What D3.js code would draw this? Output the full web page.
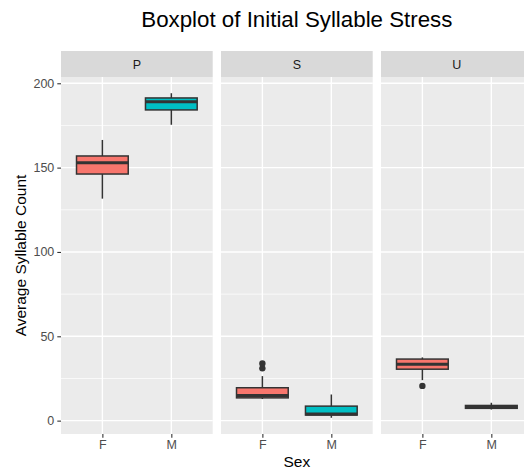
<!DOCTYPE html>
<html>
<head>
<meta charset="utf-8">
<script src="https://cdn.jsdelivr.net/npm/d3@7"></script>
<style>
  body { margin: 0; background: #fff; }
  svg { display: block; font-family: "Liberation Sans", Arial, sans-serif; }
</style>
</head>
<body>
<div id="chart"></div>
<script>
// facets and groups
var panels = ["P", "S", "U"];
var sexes = ["F", "M"];

// five-number summaries, one entry per panel/sex (P-F, P-M, S-F, S-M, U-F, U-M)
var lowWhisker = [131.6, 175.4, 12.8, 1.7, 24.0, 6.6];
var q1Values   = [146.2, 184.2, 13.5, 3.3, 30.5, 7.3];
var medians    = [152.9, 189.1, 14.9, 3.9, 33.5, 8.0];
var q3Values   = [156.9, 191.3, 19.5, 8.6, 36.5, 9.0];
var highWhisker = [166.4, 194.1, 26.4, 15.5, 37.5, 10.6];
var outliers = [[], [], [31.0, 33.9], [], [20.6], []];

var yTicks = [0, 50, 100, 150, 200];
var yMinor = [25, 75, 125, 175];

var fills = {"F": "#F8766D", "M": "#00BFC4"};

var svgWidth = 524;
var svgHeight = 472;

// layout of the plot area (the original render is cropped on the right)
var margin = {top: 51, left: 61};
var stripH = 26;
var panelW = 151.7;
var panelGap = 8.3;
var panelTop = margin.top + stripH;
var panelBottom = 434;

var svg = d3.select("#chart")
  .append("svg")
  .attr("width", svgWidth)
  .attr("height", svgHeight);

// build box records from the arrays
var boxes = [];
panels.forEach(function(p, i) {
  sexes.forEach(function(s, j) {
    var k = i * sexes.length + j;
    boxes.push({
      panel: p, sex: s,
      lo: lowWhisker[k], q1: q1Values[k], med: medians[k],
      q3: q3Values[k], hi: highWhisker[k], out: outliers[k]
    });
  });
});

// y scale with ggplot-like 5% expansion
var allVals = [];
boxes.forEach(function(b) { allVals.push(b.lo, b.hi); b.out.forEach(function(o) { allVals.push(o); }); });
var yMin = d3.min(allVals), yMax = d3.max(allVals);
var pad = (yMax - yMin) * 0.05;
var y = d3.scaleLinear()
  .domain([yMin - pad, yMax + pad])
  .range([panelBottom, panelTop]);

var xScale = d3.scalePoint()
  .domain(sexes)
  .range([0, panelW])
  .padding(0.6);
var boxW = xScale.step() * 0.75;

// title
svg.append("text")
  .attr("x", margin.left + (panels.length * panelW + (panels.length - 1) * panelGap) / 2)
  .attr("y", 27)
  .attr("text-anchor", "middle")
  .attr("font-size", "22.3px")
  .attr("fill", "#000")
  .text("Boxplot of Initial Syllable Stress");

panels.forEach(function(p, i) {
  var px = margin.left + i * (panelW + panelGap);
  var g = svg.append("g").attr("transform", `translate(${px},0)`);

  // strip
  g.append("rect")
    .attr("x", 0).attr("y", margin.top)
    .attr("width", panelW).attr("height", stripH)
    .attr("fill", "#d9d9d9");
  g.append("text")
    .attr("x", panelW / 2)
    .attr("y", margin.top + stripH / 2)
    .attr("dy", "0.36em")
    .attr("text-anchor", "middle")
    .attr("font-size", "12.5px")
    .attr("fill", "#1a1a1a")
    .text(p);

  // panel background
  g.append("rect")
    .attr("x", 0).attr("y", panelTop)
    .attr("width", panelW).attr("height", panelBottom - panelTop)
    .attr("fill", "#ebebeb");

  // grid lines
  g.selectAll(".minor")
    .data(yMinor)
    .enter().append("line")
    .attr("x1", 0).attr("x2", panelW)
    .attr("y1", d => y(d)).attr("y2", d => y(d))
    .attr("stroke", "#fff").attr("stroke-width", 0.7);
  g.selectAll(".major")
    .data(yTicks)
    .enter().append("line")
    .attr("x1", 0).attr("x2", panelW)
    .attr("y1", d => y(d)).attr("y2", d => y(d))
    .attr("stroke", "#fff").attr("stroke-width", 1.4);
  g.selectAll(".vmajor")
    .data(sexes)
    .enter().append("line")
    .attr("x1", d => xScale(d)).attr("x2", d => xScale(d))
    .attr("y1", panelTop).attr("y2", panelBottom)
    .attr("stroke", "#fff").attr("stroke-width", 1.4);

  // x axis
  var xAxis = g.append("g")
    .attr("transform", `translate(0,${panelBottom})`)
    .call(d3.axisBottom(xScale).tickSize(3.7).tickPadding(2.5));
  xAxis.select(".domain").remove();
  xAxis.selectAll(".tick line").attr("stroke", "#333").attr("stroke-width", 1.1);
  xAxis.selectAll(".tick text")
    .attr("fill", "#4d4d4d")
    .attr("font-size", "12.5px")
    .attr("font-family", "Liberation Sans, Arial, sans-serif");

  // y axis only on the first panel
  if (i === 0) {
    var yAxis = g.append("g")
      .call(d3.axisLeft(y).tickValues(yTicks).tickSize(3.7).tickPadding(3));
    yAxis.select(".domain").remove();
    yAxis.selectAll(".tick line").attr("stroke", "#333").attr("stroke-width", 1.1);
    yAxis.selectAll(".tick text")
      .attr("fill", "#4d4d4d")
      .attr("font-size", "12.5px")
      .attr("font-family", "Liberation Sans, Arial, sans-serif");
  }

  // boxes
  var data = boxes.filter(b => b.panel === p);
  var bg = g.selectAll(".box")
    .data(data)
    .enter().append("g");

  bg.append("line")
    .attr("x1", d => xScale(d.sex)).attr("x2", d => xScale(d.sex))
    .attr("y1", d => y(d.hi)).attr("y2", d => y(d.lo))
    .attr("stroke", "#333").attr("stroke-width", 1.5);

  bg.append("rect")
    .attr("x", d => xScale(d.sex) - boxW / 2)
    .attr("y", d => y(d.q3))
    .attr("width", boxW)
    .attr("height", d => y(d.q1) - y(d.q3))
    .attr("fill", d => fills[d.sex])
    .attr("stroke", "#333").attr("stroke-width", 1.5);

  bg.append("line")
    .attr("x1", d => xScale(d.sex) - boxW / 2).attr("x2", d => xScale(d.sex) + boxW / 2)
    .attr("y1", d => y(d.med)).attr("y2", d => y(d.med))
    .attr("stroke", "#333").attr("stroke-width", 3);

  bg.selectAll(".out")
    .data(d => d.out.map(v => ({sex: d.sex, v: v})))
    .enter().append("circle")
    .attr("cx", d => xScale(d.sex))
    .attr("cy", d => y(d.v))
    .attr("r", 3.2)
    .attr("fill", "#333");
});

// axis titles
svg.append("text")
  .attr("x", margin.left + (panels.length * panelW + (panels.length - 1) * panelGap) / 2)
  .attr("y", 466.5)
  .attr("text-anchor", "middle")
  .attr("font-size", "15.5px")
  .attr("fill", "#000")
  .text("Sex");

svg.append("text")
  .attr("transform", `translate(26,${(panelTop + panelBottom) / 2}) rotate(-90)`)
  .attr("text-anchor", "middle")
  .attr("font-size", "15.5px")
  .attr("fill", "#000")
  .text("Average Syllable Count");
</script>
</body>
</html>
